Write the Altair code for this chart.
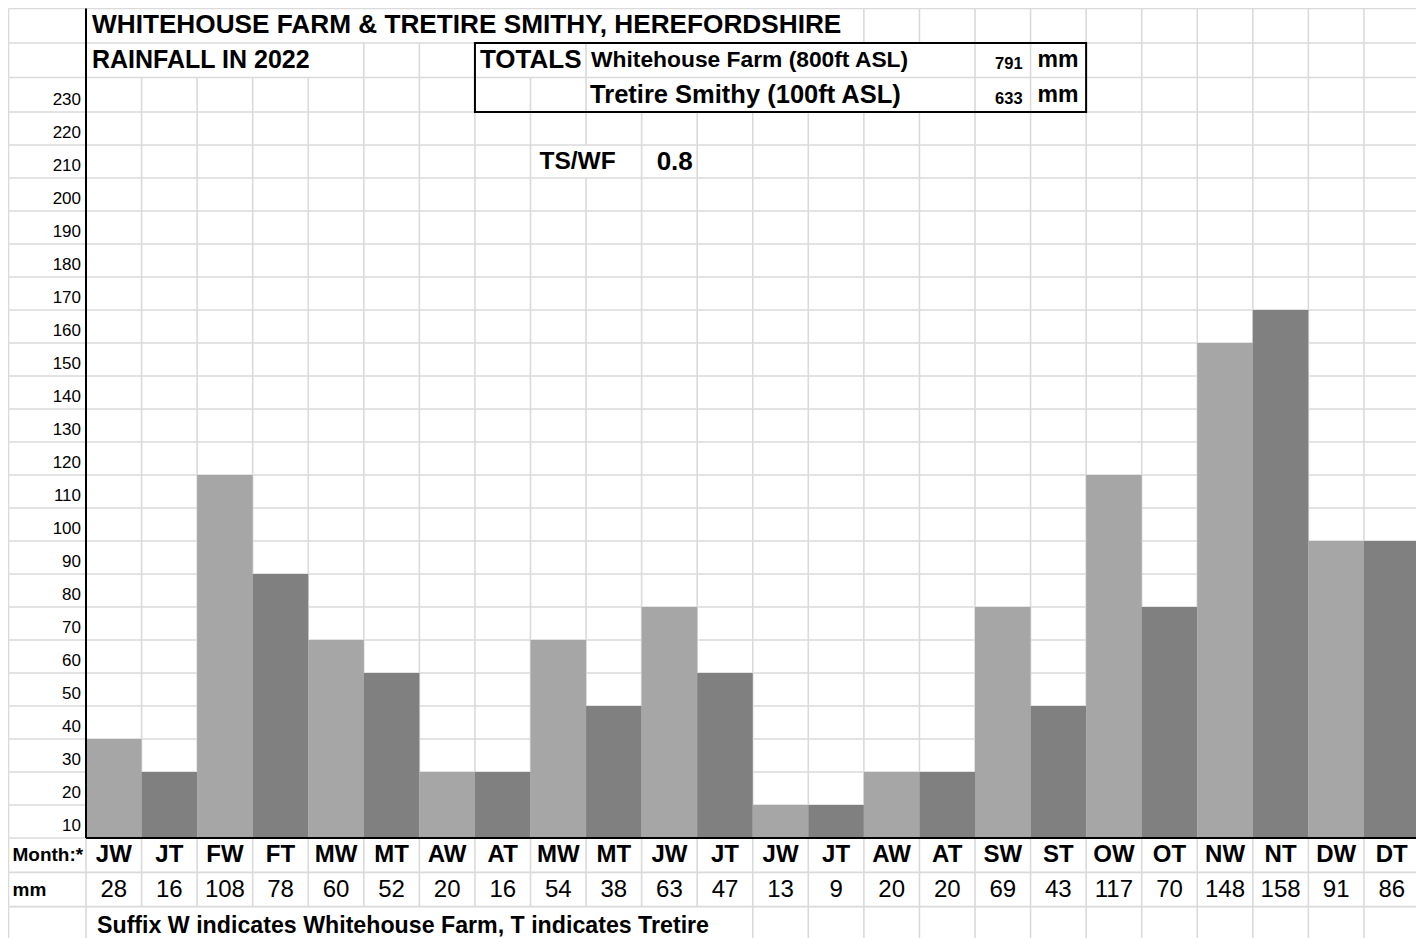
import altair as alt
import pandas as pd

# ---------------- data ----------------
months = ["JW", "JT", "FW", "FT", "MW", "MT", "AW", "AT", "MW", "MT", "JW", "JT",
          "JW", "JT", "AW", "AT", "SW", "ST", "OW", "OT", "NW", "NT", "DW", "DT"]
rain_mm = [28, 16, 108, 78, 60, 52, 20, 16, 54, 38, 63, 47,
           13, 9, 20, 20, 69, 43, 117, 70, 148, 158, 91, 86]
# height of the filled cells as drawn in the sheet (mm)
bar_height = [30, 20, 110, 80, 60, 50, 20, 20, 60, 40, 70, 50,
              10, 10, 20, 20, 70, 40, 110, 70, 150, 160, 90, 90]
y_tick_labels = list(range(10, 240, 10))
title_line1 = "WHITEHOUSE FARM & TRETIRE SMITHY, HEREFORDSHIRE"
title_line2 = "RAINFALL IN 2022"
totals_label = "TOTALS"
site_names = ["Whitehouse Farm (800ft ASL)", "Tretire Smithy (100ft ASL)"]
site_totals = ["791", "633"]
unit_label = "mm"
ratio_label = "TS/WF"
ratio_value = "0.8"
row_labels = ["Month:*", "mm"]
footnote = "Suffix W indicates Whitehouse Farm, T indicates Tretire"

FONT = "Liberation Sans"
GRID = "#dadada"
W_COL = "#a6a6a6"
T_COL = "#808080"

# ---------------- scales (spreadsheet grid) ----------------
XS = alt.Scale(domain=[-1, 0, 24], range=[0.5, 78, 1411.5], nice=False, zero=False)
YS = alt.Scale(domain=[-30, 0, 220, 250], range=[933, 830, 104, 0.5], nice=False, zero=False)


def X(f):
    return alt.X(f, type="quantitative", scale=XS, axis=None)


def Y(f):
    return alt.Y(f, type="quantitative", scale=YS, axis=None)


# ---------------- grid lines ----------------
row_edges = list(range(-30, 251, 10))
hgrid = pd.DataFrame({"y": row_edges, "x0": -1, "x1": 24})

# vertical boundaries hidden behind overflowing text, per row (row bottom value)
hidden = {
    240: list(range(1, 14)),
    230: list(range(1, 5)) + [8] + list(range(10, 16)),
    220: list(range(10, 16)),
    200: [9],
    -30: list(range(1, 12)),
}
vrows = []
for lo in range(-30, 250, 10):
    for k in range(-1, 25):
        if k in hidden.get(lo, []):
            continue
        vrows.append({"x": k, "y0": lo, "y1": lo + 10})
vgrid = pd.DataFrame(vrows)

hgrid_layer = alt.Chart(hgrid).mark_rule(color=GRID, strokeWidth=1.6).encode(
    x=X("x0"), x2="x1", y=Y("y"))
vgrid_layer = alt.Chart(vgrid).mark_rule(color=GRID, strokeWidth=1.6).encode(
    x=X("x"), y=Y("y0"), y2="y1")

# ---------------- bars ----------------
bars_df = pd.DataFrame({
    "month": months,
    "mm": rain_mm,
    "h": bar_height,
    "site": [m[-1] for m in months],
    "c0": list(range(24)),
})
bars_df["c1"] = bars_df["c0"] + 1
bars_df["base"] = 0
bars = alt.Chart(bars_df).mark_rect(strokeWidth=0).encode(
    x=X("c0"), x2="c1", y=Y("base"), y2="h",
    color=alt.Color("site:N", scale=alt.Scale(domain=["W", "T"], range=[W_COL, T_COL]), legend=None),
)

# axis lines (black)
axis_df = pd.DataFrame({"x": [0], "x1": [24], "y0": [0], "y1": [250]})
v_axis = alt.Chart(axis_df).mark_rule(color="black", strokeWidth=2).encode(
    x=X("x"), y=Y("y0"), y2="y1")
h_axis = alt.Chart(axis_df).mark_rule(color="black", strokeWidth=2).encode(
    x=X("x"), x2="x1", y=Y("y0"))

# totals box border
box_df = pd.DataFrame({"c0": [7], "c1": [18], "r0": [220], "r1": [240]})
box = alt.Chart(box_df).mark_rect(filled=False, stroke="black", strokeWidth=2).encode(
    x=X("c0"), x2="c1", y=Y("r0"), y2="r1")


# ---------------- texts ----------------
def text_layer(rows, size, bold=True, align="left", dx=0, dy=0, baseline="middle"):
    df = pd.DataFrame(rows, columns=["x", "y", "t"])
    return alt.Chart(df).mark_text(
        font=FONT, fontSize=size, fontWeight="bold" if bold else "normal",
        align=align, baseline=baseline, dx=dx, dy=dy, color="black",
    ).encode(x=X("x"), y=Y("y"), text="t:N")


texts = [
    text_layer([(0, 245, title_line1)], 26.2, dx=6, dy=-1),
    text_layer([(0, 235, title_line2)], 25, dx=6),
    text_layer([(7, 235, totals_label)], 26, dx=5),
    text_layer([(9, 235, site_names[0])], 22.8, dx=5),
    text_layer([(9, 225, site_names[1])], 25.5, dx=4),
    text_layer([(17, 235, site_totals[0]), (17, 225, site_totals[1])], 16.5, align="right", dx=-8, dy=4),
    text_layer([(17, 235, unit_label), (17, 225, unit_label)], 23, dx=7),
    text_layer([(8, 205, ratio_label)], 24.5, dx=9),
    text_layer([(10, 205, ratio_value)], 26, dx=15),
    # y labels: written at bottom of their cells
    text_layer([(0, v - 10, str(v)) for v in y_tick_labels], 17, bold=False, align="right",
               dx=-5, dy=-7, baseline="alphabetic"),
    # month row and values row
    text_layer([(-1, -5, row_labels[0]), (-1, -15, row_labels[1])], 19, dx=4),
    text_layer([(i + 0.5, -5, m) for i, m in enumerate(months)], 24, align="center"),
    text_layer([(i + 0.5, -15, str(v)) for i, v in enumerate(rain_mm)], 24, bold=False, align="center"),
    text_layer([(0, -25, footnote)], 23.2, dx=11, dy=2),
]

chart = alt.layer(hgrid_layer, vgrid_layer, bars, v_axis, h_axis, box, *texts).properties(
    width=1408, height=930, padding=0,
    autosize=alt.AutoSizeParams(type="none"),
    background="white",
).configure_view(stroke=None)

chart.save("out.html", embed_options={"renderer": "svg", "actions": False})
